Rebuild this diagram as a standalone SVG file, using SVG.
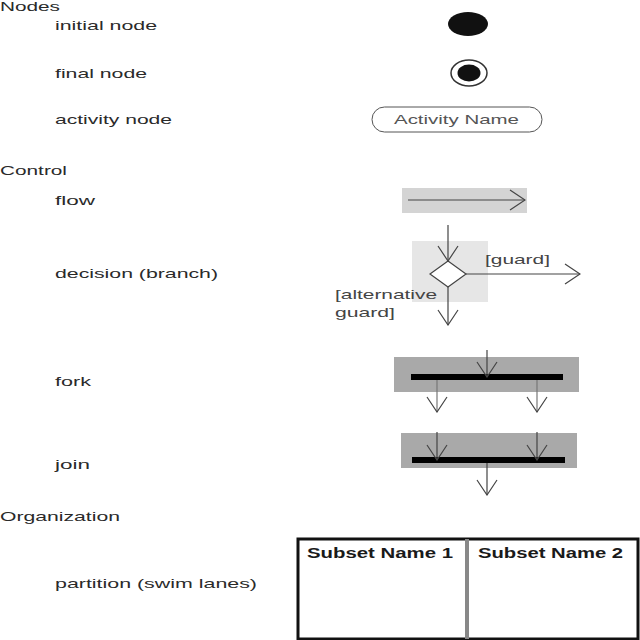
<svg xmlns="http://www.w3.org/2000/svg" width="640" height="640" viewBox="0 0 640 640">
<style>
.lbl{font-family:"Liberation Sans",Arial,sans-serif;font-size:13px;fill:#2a2a2a}
.bold{font-weight:bold;font-size:14px;fill:#1a1a1a}
.conn{stroke:#444;stroke-width:1.2;fill:none}
.bar{fill:#000}
</style>
<defs>
<marker id="open" viewBox="-1 -1 17 22" refX="15" refY="10" markerWidth="17" markerHeight="22" markerUnits="userSpaceOnUse" orient="auto">
<path d="M0,0 L15,10 L0,20" fill="none" stroke="#444" stroke-width="1.2"/>
</marker>
</defs>
<rect width="640" height="640" fill="#fff"/>

<g id="labels">
<text class="lbl" x="0" y="11" textLength="60" lengthAdjust="spacingAndGlyphs">Nodes</text>
<text class="lbl" x="55" y="30" textLength="102" lengthAdjust="spacingAndGlyphs">initial node</text>
<text class="lbl" x="55" y="78" textLength="92" lengthAdjust="spacingAndGlyphs">final node</text>
<text class="lbl" x="55" y="124" textLength="117" lengthAdjust="spacingAndGlyphs">activity node</text>
<text class="lbl" x="0" y="175" textLength="67" lengthAdjust="spacingAndGlyphs">Control</text>
<text class="lbl" x="55" y="205" textLength="40" lengthAdjust="spacingAndGlyphs">flow</text>
<text class="lbl" x="55" y="278" textLength="163" lengthAdjust="spacingAndGlyphs">decision (branch)</text>
<text class="lbl" x="55" y="386" textLength="36" lengthAdjust="spacingAndGlyphs">fork</text>
<text class="lbl" x="55" y="469" textLength="35" lengthAdjust="spacingAndGlyphs">join</text>
<text class="lbl" x="0" y="521" textLength="120" lengthAdjust="spacingAndGlyphs">Organization</text>
<text class="lbl" x="55" y="588" textLength="202" lengthAdjust="spacingAndGlyphs">partition (swim lanes)</text>
</g>

<g id="initial-node">
<ellipse cx="468" cy="24" rx="20" ry="12" fill="#111"/>
</g>

<g id="final-node">
<ellipse cx="469" cy="73" rx="18" ry="13" fill="#fff" stroke="#333" stroke-width="1.5"/>
<ellipse cx="469" cy="73" rx="11.5" ry="8.5" fill="#111"/>
</g>

<g id="activity-node">
<rect x="372" y="107" width="170" height="25" rx="12.5" ry="12.5" fill="#fff" stroke="#555" stroke-width="1"/>
<text class="lbl" x="394" y="124" textLength="125" lengthAdjust="spacingAndGlyphs" style="fill:#555">Activity Name</text>
</g>

<g id="flow">
<rect x="402" y="188" width="125" height="25" fill="#d4d4d4"/>
</g>

<g id="decision">
<rect x="412" y="241" width="76" height="61" fill="#e6e6e6"/>
<polygon points="448,261 466,274 448,287 430,274" fill="#fff" stroke="#444" stroke-width="1.2"/>
<text class="lbl" x="485" y="264" textLength="65" lengthAdjust="spacingAndGlyphs" style="fill:#444">[guard]</text>
<text class="lbl" x="335" y="299" textLength="102" lengthAdjust="spacingAndGlyphs" style="fill:#444">[alternative</text>
<text class="lbl" x="335" y="317" textLength="60" lengthAdjust="spacingAndGlyphs" style="fill:#444">guard]</text>
</g>

<g id="fork">
<rect x="394" y="357" width="185" height="35" fill="#a9a9a9"/>
<rect class="bar" x="411" y="374" width="152" height="6"/>
</g>

<g id="join">
<rect x="401" y="433" width="176" height="35" fill="#a9a9a9"/>
<rect class="bar" x="412" y="457" width="153" height="6"/>
</g>

<g id="partition">
<rect x="298" y="539" width="340" height="100" fill="#fff" stroke="#111" stroke-width="3"/>
<line x1="467" y1="539" x2="467" y2="639" stroke="#888" stroke-width="4"/>
<text class="lbl bold" x="307" y="558" textLength="146" lengthAdjust="spacingAndGlyphs">Subset Name 1</text>
<text class="lbl bold" x="478" y="558" textLength="145" lengthAdjust="spacingAndGlyphs">Subset Name 2</text>
</g>

<g id="connectors">
<line class="conn" x1="408" y1="200" x2="525" y2="200" marker-end="url(#open)"/>
<line class="conn" x1="448" y1="225" x2="448" y2="261" marker-end="url(#open)"/>
<line class="conn" x1="466" y1="274" x2="580" y2="274" marker-end="url(#open)"/>
<line class="conn" x1="448" y1="287" x2="448" y2="325" marker-end="url(#open)"/>
<line class="conn" x1="487" y1="350" x2="487" y2="377" marker-end="url(#open)"/>
<line class="conn" x1="437" y1="380" x2="437" y2="412" marker-end="url(#open)" style="stroke:#777"/>
<line class="conn" x1="537" y1="380" x2="537" y2="412" marker-end="url(#open)" style="stroke:#777"/>
<line class="conn" x1="437" y1="432" x2="437" y2="460" marker-end="url(#open)"/>
<line class="conn" x1="537" y1="432" x2="537" y2="460" marker-end="url(#open)"/>
<line class="conn" x1="487" y1="463" x2="487" y2="495" marker-end="url(#open)"/>
</g>
</svg>
